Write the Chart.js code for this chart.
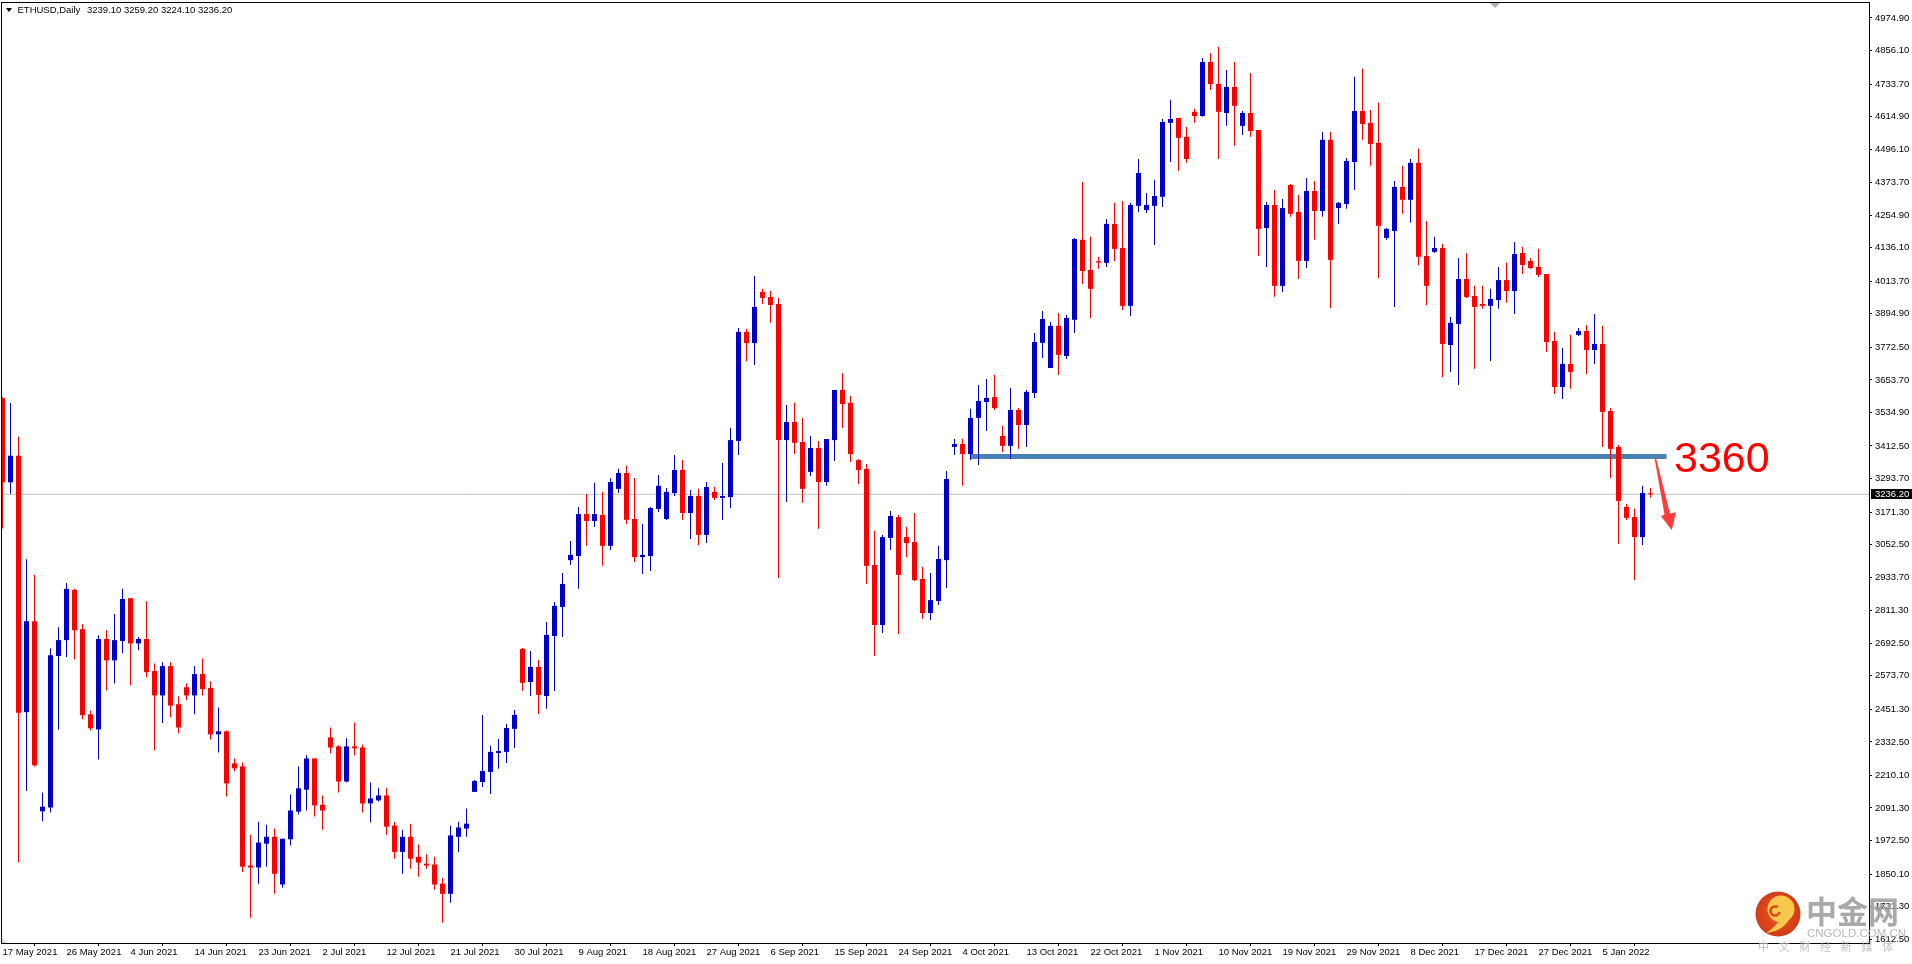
<!DOCTYPE html>
<html>
<head>
<meta charset="utf-8">
<title>ETHUSD,Daily</title>
<script src="https://cdn.jsdelivr.net/npm/chart.js@4/dist/chart.umd.min.js"></script>
<style>
  html, body { margin: 0; padding: 0; background: #fff; overflow: hidden; }
  canvas { display: block; }
</style>
</head>
<body>
<canvas id="ethusd-chart" width="1912" height="964"></canvas>
<script>
// Daily candles, one entry per bar
const opens = [
  3587, 3280, 3377, 2441, 2773, 2079, 2093, 2646, 2704, 2887,
  2744, 2433, 2378, 2708, 2630, 2701, 2857, 2692, 2708, 2591,
  2502, 2609, 2470, 2532, 2502, 2580, 2529, 2360, 2371, 2254,
  2243, 1881, 1874, 1961, 1986, 1812, 1977, 2078, 2158, 2272,
  2103, 2349, 2316, 2188, 2316, 2312, 2108, 2119, 2137, 2027,
  1931, 1986, 1913, 1888, 1885, 1815, 1778, 1986, 2016, 2150,
  2186, 2223, 2292, 2296, 2380, 2672, 2551, 2606, 2500, 2719,
  2825, 2996, 3011, 3164, 3139, 3161, 3048, 3256, 3314, 3146,
  3007, 3011, 3183, 3146, 3241, 3325, 3168, 3230, 3088, 3245,
  3223, 3226, 3431, 3829, 3788, 3975, 3956, 3931, 3434, 3500,
  3427, 3318, 3405, 3281, 3434, 3617, 3570, 3361, 3329, 2978,
  2759, 3077, 3153, 3080, 3062, 2927, 2803, 2847, 2996, 3409,
  3420, 3383, 3515, 3573, 3591, 3449, 3413, 3544, 3489, 3606,
  3789, 3697, 3851, 3741, 3873, 4165, 4055, 4087, 4081, 4223,
  4135, 3924, 4289, 4274, 4289, 4322, 4592, 4610, 4541, 4632,
  4617, 4814, 4734, 4628, 4723, 4581, 4628, 4566, 4208, 4292,
  3997, 4365, 4267, 4088, 4343, 4270, 4530, 4281, 4296, 4449,
  4635, 4592, 4519, 4172, 4197, 4358, 4311, 4446, 4106, 4121,
  4135, 3781, 3858, 4022, 3960, 3931, 3924, 3945, 4018, 3978,
  4117, 4088, 4066, 4040, 3796, 3628, 3712, 3818, 3832, 3763,
  3785, 3540, 3409, 3190, 3153, 3080, 3239.1,
];
const highs = [
  3590, 3569, 3446, 2999, 2942, 2148, 2674, 2751, 2912, 2891,
  2763, 2446, 2722, 2740, 2799, 2891, 2857, 2715, 2846, 2619,
  2623, 2623, 2499, 2546, 2609, 2637, 2554, 2458, 2374, 2272,
  2257, 1993, 2041, 2030, 2016, 1979, 2140, 2243, 2284, 2272,
  2137, 2385, 2320, 2346, 2403, 2323, 2184, 2165, 2163, 2041,
  2012, 2034, 1958, 1922, 1913, 1837, 2027, 2041, 2089, 2193,
  2431, 2318, 2343, 2398, 2449, 2675, 2664, 2631, 2770, 2843,
  2949, 3066, 3190, 3237, 3278, 3245, 3295, 3329, 3340, 3296,
  3128, 3190, 3307, 3259, 3380, 3361, 3252, 3256, 3281, 3263,
  3350, 3478, 3843, 3840, 4033, 3986, 3978, 3953, 3562, 3570,
  3515, 3449, 3431, 3438, 3617, 3679, 3595, 3365, 3347, 3102,
  3088, 3175, 3161, 3117, 3168, 2971, 2949, 3048, 3321, 3438,
  3438, 3548, 3635, 3657, 3672, 3486, 3624, 3551, 3617, 3825,
  3905, 3865, 3898, 3891, 4172, 4376, 4176, 4103, 4241, 4300,
  4307, 4300, 4460, 4336, 4384, 4606, 4676, 4610, 4577, 4643,
  4829, 4847, 4869, 4785, 4814, 4635, 4774, 4566, 4303, 4347,
  4314, 4369, 4329, 4391, 4380, 4559, 4559, 4303, 4464, 4760,
  4789, 4639, 4665, 4208, 4380, 4435, 4460, 4497, 4234, 4176,
  4150, 3883, 4099, 4117, 3997, 3997, 3986, 4066, 4081, 4157,
  4139, 4099, 4132, 4040, 3829, 3770, 3818, 3843, 3854, 3894,
  3851, 3551, 3416, 3201, 3183, 3267, 3259.2,
];
const lows = [
  3111, 3238, 1892, 2153, 2243, 2043, 2075, 2378, 2642, 2634,
  2415, 2374, 2268, 2520, 2546, 2656, 2539, 2667, 2568, 2302,
  2401, 2422, 2364, 2484, 2433, 2502, 2341, 2294, 2133, 2225,
  1858, 1691, 1815, 1877, 1778, 1800, 1954, 2067, 2082, 2060,
  2012, 2291, 2148, 2184, 2284, 2075, 2038, 2115, 1993, 1906,
  1851, 1869, 1840, 1869, 1793, 1672, 1745, 1931, 1986, 2150,
  2168, 2142, 2234, 2255, 2310, 2518, 2500, 2434, 2453, 2518,
  2715, 2978, 2891, 3048, 3117, 2975, 3033, 3241, 3128, 2989,
  2945, 2956, 3172, 3142, 3230, 3142, 3073, 3051, 3058, 3215,
  3142, 3186, 3380, 3723, 3708, 3931, 3862, 2931, 3208, 3383,
  3205, 3303, 3110, 3267, 3358, 3478, 3354, 3274, 2909, 2646,
  2730, 3033, 2726, 3007, 2920, 2781, 2777, 2832, 2894, 3380,
  3267, 3361, 3343, 3467, 3544, 3391, 3365, 3402, 3409, 3588,
  3734, 3697, 3672, 3730, 3825, 4004, 3880, 4059, 4066, 4088,
  3909, 3887, 4267, 4263, 4146, 4285, 4449, 4416, 4446, 4592,
  4614, 4712, 4460, 4581, 4508, 4548, 4541, 4106, 4066, 3957,
  3975, 4249, 4022, 4062, 4165, 4249, 3916, 4223, 4278, 4347,
  4530, 4435, 4026, 4165, 3920, 4260, 4227, 4073, 3927, 4117,
  3664, 3683, 3635, 3953, 3694, 3913, 3723, 3913, 3935, 3894,
  4040, 4059, 4029, 3756, 3602, 3584, 3621, 3814, 3675, 3712,
  3409, 3296, 3055, 3142, 2923, 3051, 3224.1,
];
const closes = [
  3280, 3377, 2439, 2773, 2247, 2096, 2649, 2704, 2891, 2740,
  2430, 2382, 2708, 2630, 2704, 2854, 2692, 2708, 2587, 2502,
  2609, 2465, 2385, 2502, 2580, 2525, 2360, 2371, 2181, 2236,
  1877, 1874, 1965, 1986, 1851, 1979, 2082, 2163, 2272, 2101,
  2082, 2312, 2188, 2316, 2309, 2108, 2126, 2137, 2023, 1931,
  1986, 1906, 1892, 1881, 1812, 1778, 1991, 2020, 2034, 2190,
  2226, 2296, 2299, 2383, 2431, 2548, 2606, 2504, 2723, 2829,
  2909, 3015, 3164, 3139, 3164, 3048, 3281, 3314, 3143, 3007,
  3015, 3186, 3267, 3245, 3325, 3168, 3230, 3088, 3263, 3223,
  3230, 3434, 3829, 3788, 3920, 3953, 3927, 3434, 3500, 3424,
  3256, 3405, 3281, 3438, 3617, 3566, 3383, 3325, 2975, 2759,
  3080, 3157, 2942, 3058, 2923, 2803, 2850, 3000, 3292, 3420,
  3383, 3515, 3577, 3588, 3551, 3413, 3544, 3489, 3610, 3792,
  3876, 3851, 3745, 3880, 4168, 4051, 3986, 4082, 4223, 4132,
  3924, 4292, 4409, 4292, 4325, 4595, 4606, 4537, 4460, 4617,
  4814, 4734, 4632, 4723, 4654, 4628, 4562, 4205, 4292, 3997,
  4281, 4260, 4088, 4343, 4270, 4530, 4092, 4300, 4453, 4635,
  4588, 4515, 4216, 4205, 4358, 4311, 4446, 4103, 3997, 4135,
  3785, 3862, 4022, 3956, 3920, 3924, 3949, 4018, 3978, 4113,
  4073, 4062, 4037, 3792, 3628, 3712, 3683, 3832, 3763, 3785,
  3537, 3402, 3212, 3150, 3080, 3241, 3236.2,
];

// Axis labels
const dateLabels = [
  "17 May 2021", "26 May 2021", "4 Jun 2021", "14 Jun 2021", "23 Jun 2021",
  "2 Jul 2021", "12 Jul 2021", "21 Jul 2021", "30 Jul 2021", "9 Aug 2021",
  "18 Aug 2021", "27 Aug 2021", "6 Sep 2021", "15 Sep 2021", "24 Sep 2021",
  "4 Oct 2021", "13 Oct 2021", "22 Oct 2021", "1 Nov 2021", "10 Nov 2021",
  "19 Nov 2021", "29 Nov 2021", "8 Dec 2021", "17 Dec 2021", "27 Dec 2021",
  "5 Jan 2022",
];
const barsPerDateLabel = 8;
const priceTicks = [
  4974.9, 4856.1, 4733.7, 4614.9, 4496.1, 4373.7, 4254.9, 4136.1, 4013.7, 3894.9,
  3772.5, 3653.7, 3534.9, 3412.5, 3293.7, 3171.3, 3052.5, 2933.7, 2811.3, 2692.5,
  2573.7, 2451.3, 2332.5, 2210.1, 2091.3, 1972.5, 1850.1, 1731.3, 1612.5,
];

const lastPrice = 3236.2;
const levelPrice = 3374; // the thick line sits here, a bit above the "3360" it is labelled with
const levelFromBar = 121;
const levelToBar = 208;

const UP_COLOR = "#0000cd";
const DOWN_COLOR = "#ff0000";
const barColors = closes.map((c, i) => (c >= opens[i] ? UP_COLOR : DOWN_COLOR));
const TEXT_FONT = '9.5px "Liberation Sans"';

// Frame, last price tag, header and the hand-drawn annotations
const overlayPlugin = {
  id: "overlay",
  beforeDatasetsDraw(chart) {
    const { ctx, chartArea: a } = chart;
    ctx.save();
    ctx.fillStyle = "#d8d8d8";
    ctx.beginPath();
    ctx.moveTo(a.left, a.bottom - 5);
    ctx.lineTo(a.left + 5, a.bottom);
    ctx.lineTo(a.left, a.bottom);
    ctx.fill();
    ctx.restore();
  },
  afterDraw(chart) {
    const { ctx, chartArea: a, scales } = chart;
    ctx.save();

    ctx.strokeStyle = "#000";
    ctx.lineWidth = 1;
    ctx.strokeRect(a.left - 0.5, a.top - 0.5, a.right - a.left + 1, a.bottom - a.top + 1);

    // last price tag on the axis
    const tagY = scales.y.getPixelForValue(lastPrice);
    ctx.fillStyle = "#000";
    ctx.fillRect(1871, Math.round(tagY) - 5, 41, 10);
    ctx.fillStyle = "#fff";
    ctx.font = TEXT_FONT;
    ctx.textBaseline = "middle";
    ctx.textAlign = "left";
    ctx.fillText(lastPrice.toFixed(2), 1875, tagY + 0.5);

    // header
    ctx.fillStyle = "#000";
    ctx.beginPath();
    ctx.moveTo(6, 8);
    ctx.lineTo(12, 8);
    ctx.lineTo(9, 12);
    ctx.fill();
    ctx.fillText("ETHUSD,Daily", 17.5, 10.5);
    ctx.fillText("3239.10 3259.20 3224.10 3236.20", 87, 10.5);

    // small marker on the top edge
    ctx.fillStyle = "#b0b0b0";
    ctx.beginPath();
    ctx.moveTo(1490, 3);
    ctx.lineTo(1500, 3);
    ctx.lineTo(1495, 8);
    ctx.fill();

    // annotation
    ctx.fillStyle = "#ff0000";
    ctx.font = '43px "Liberation Sans"';
    ctx.textBaseline = "alphabetic";
    ctx.fillText("3360", 1674, 472);

    ctx.fillStyle = "#ff3b3b";
    ctx.beginPath();
    ctx.moveTo(1654.5, 458);
    ctx.lineTo(1656, 458);
    ctx.lineTo(1670, 513.5);
    ctx.lineTo(1676, 512.3);
    ctx.lineTo(1671.7, 530);
    ctx.lineTo(1661, 516.3);
    ctx.lineTo(1664.5, 514.5);
    ctx.closePath();
    ctx.fill();

    // watermark
    const logo = ctx.createRadialGradient(1777, 912, 6, 1778, 914, 23);
    logo.addColorStop(0, "#e8501a");
    logo.addColorStop(1, "#cf3a1c");
    ctx.fillStyle = logo;
    ctx.beginPath();
    ctx.arc(1778, 914, 22.5, 0, Math.PI * 2);
    ctx.fill();
    ctx.fillStyle = "#fbc84e";
    ctx.beginPath();
    ctx.arc(1781, 909, 13.5, 0, Math.PI * 2);
    ctx.fill();
    ctx.beginPath();
    ctx.moveTo(1791, 913);
    ctx.quadraticCurveTo(1788, 930, 1766, 933);
    ctx.quadraticCurveTo(1780, 924, 1781, 915);
    ctx.fill();
    ctx.strokeStyle = "#d8481c";
    ctx.lineWidth = 2.5;
    ctx.beginPath();
    ctx.arc(1775, 911, 4.5, 0.2, Math.PI * 1.7);
    ctx.stroke();

    ctx.fillStyle = "rgba(160,160,160,0.9)";
    ctx.font = 'bold 31px "Noto Sans CJK SC"';
    ctx.textBaseline = "middle";
    ctx.fillText("中金网", 1806, 911);
    ctx.fillStyle = "rgba(170,170,170,0.85)";
    ctx.font = '11.5px "Liberation Sans"';
    ctx.fillText("CNGOLD.COM.CN", 1807, 933.5);
    ctx.fillStyle = "rgba(185,185,185,0.9)";
    ctx.font = '11px "Noto Sans CJK SC"';
    ctx.textAlign = "center";
    "中文财经新媒体".split("").forEach((ch, i) => {
      ctx.fillText(ch, 1763.5 + i * 20.7, 947);
    });
    ctx.restore();
  },
};

function barPoints(makeY) {
  return opens.map((o, i) => ({ x: i, y: makeY(i) }));
}

const ctx = document.getElementById("ethusd-chart").getContext("2d");
const chart = new Chart(ctx, {
  type: "bar",
  data: {
    datasets: [
      {
        type: "bar",
        label: "Body",
        data: barPoints((i) => [opens[i], closes[i]]),
        backgroundColor: barColors,
        barThickness: 5,
        inflateAmount: 0,
        minBarLength: 1,
        grouped: false,
        order: 1,
      },
      {
        type: "bar",
        label: "Wick",
        data: barPoints((i) => [lows[i], highs[i]]),
        backgroundColor: barColors,
        barThickness: 1,
        inflateAmount: 0,
        grouped: false,
        order: 2,
      },
      {
        type: "line",
        label: "Level",
        data: [
          { x: levelFromBar, y: levelPrice },
          { x: levelToBar, y: levelPrice },
        ],
        borderColor: "#4682b4",
        borderWidth: 5,
        pointRadius: 0,
        order: 3,
      },
      {
        type: "line",
        label: "Last price",
        data: [
          { x: -1, y: lastPrice },
          { x: 240, y: lastPrice },
        ],
        borderColor: "#c0c0c0",
        borderWidth: 1,
        pointRadius: 0,
        order: 4,
      },
    ],
  },
  options: {
    responsive: false,
    animation: false,
    layout: { padding: { left: 2, top: 3, right: 0, bottom: 0 } },
    plugins: {
      legend: { display: false },
      title: { display: false },
      tooltip: { enabled: false },
    },
    scales: {
      x: {
        type: "linear",
        min: -0.0625,
        max: 233.3125,
        offset: false,
        grid: { drawOnChartArea: false, drawTicks: true, tickLength: 3, tickColor: "#000" },
        border: { display: false },
        afterFit(scale) {
          scale.height = 21;
          scale.paddingLeft = 0;
          scale.paddingRight = 0;
        },
        afterBuildTicks(scale) {
          scale.ticks = dateLabels.map((d, i) => ({ value: i * barsPerDateLabel, label: d }));
        },
        ticks: {
          autoSkip: false,
          maxRotation: 0,
          align: "start",
          padding: 1,
          color: "#000",
          font: { family: "Liberation Sans", size: 9.5 },
          callback: (value) => dateLabels[value / barsPerDateLabel],
        },
      },
      y: {
        type: "linear",
        position: "right",
        min: 1598.4,
        max: 5029.4,
        grid: { drawOnChartArea: false, drawTicks: true, tickLength: 3, tickColor: "#000" },
        border: { display: false },
        afterFit(scale) {
          scale.width = 43;
          scale.paddingTop = 0;
          scale.paddingBottom = 0;
        },
        afterBuildTicks(scale) {
          scale.ticks = priceTicks.map((v) => ({ value: v }));
        },
        ticks: {
          autoSkip: false,
          padding: 3,
          color: "#000",
          font: { family: "Liberation Sans", size: 9.5 },
          callback: (value) => value.toFixed(2),
        },
      },
    },
  },
  plugins: [overlayPlugin],
});
</script>
</body>
</html>
